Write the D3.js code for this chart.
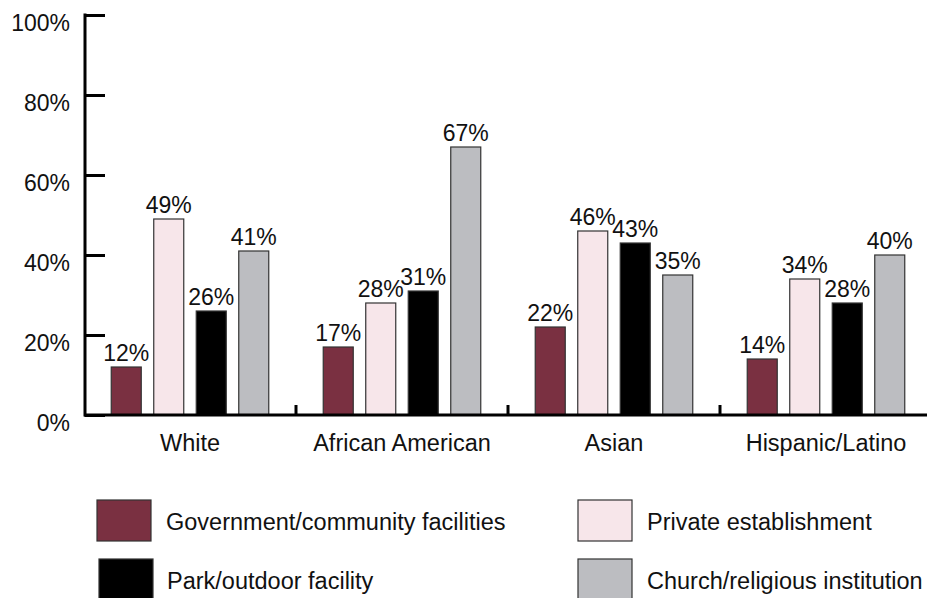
<!DOCTYPE html>
<html>
<head>
<meta charset="utf-8">
<script src="https://cdn.jsdelivr.net/npm/d3@7/dist/d3.min.js"></script>
<style>
  html, body { margin: 0; padding: 0; background: #fff; }
  svg { display: block; font-family: "Liberation Sans", Arial, Helvetica, sans-serif; }
</style>
</head>
<body>
<svg id="chart" width="927" height="598"></svg>
<script>
// Groups along the x axis
const categories = ["White", "African American", "Asian", "Hispanic/Latino"];

// Series names, in drawing order within each group
const seriesNames = [
  "Government/community facilities",
  "Private establishment",
  "Park/outdoor facility",
  "Church/religious institution"
];

// Percent values per series, one per category
const govValues = [12, 17, 22, 14];
const privateValues = [49, 28, 46, 34];
const parkValues = [26, 31, 43, 28];
const churchValues = [41, 67, 35, 40];

// Y axis ticks
const yTicks = [0, 20, 40, 60, 80, 100];

const seriesValues = [govValues, privateValues, parkValues, churchValues];
const colors = ["#7a3041", "#f7e6ea", "#000000", "#bcbdc1"];

const svg = d3.select("#chart");
const fontSize = 23;

const x0 = d3.scaleBand().domain(categories).range([84, 932]).padding(0);
const x1 = d3.scaleBand().domain(seriesNames).range([0, x0.bandwidth()])
  .paddingInner(0.294).paddingOuter(0.641);
const y = d3.scaleLinear().domain([0, 100]).range([415, 15]);

// Y axis: ticks pointing inward, labels to the left
const yAxis = svg.append("g")
  .attr("transform", "translate(85,0)")
  .call(d3.axisLeft(y).tickValues(yTicks).tickFormat(d => d + "%")
    .tickSizeInner(-20).tickSizeOuter(0).tickPadding(15));
yAxis.select(".domain").remove();
yAxis.selectAll(".tick line").attr("stroke", "#000").attr("stroke-width", 3);
yAxis.selectAll(".tick text")
  .attr("font-size", fontSize).attr("fill", "#111")
  .attr("font-family", "Liberation Sans, Arial, sans-serif")
  .attr("dy", "0.68em");

// Bars, one group per category
const rows = categories.map((c, ci) =>
  seriesNames.map((s, si) => ({ s, si, v: seriesValues[si][ci] })));

const groups = svg.append("g").selectAll("g")
  .data(categories)
  .join("g")
  .attr("transform", d => `translate(${x0(d)},0)`);

groups.selectAll("rect")
  .data((c, ci) => rows[ci])
  .join("rect")
  .attr("x", d => x1(d.s))
  .attr("y", d => y(d.v))
  .attr("width", x1.bandwidth())
  .attr("height", d => y(0) - y(d.v))
  .attr("fill", d => colors[d.si])
  .attr("stroke", "#333")
  .attr("stroke-width", 1.2);

groups.selectAll("text.val")
  .data((c, ci) => rows[ci])
  .join("text")
  .attr("class", "val")
  .attr("x", d => x1(d.s) + x1.bandwidth() / 2)
  .attr("y", d => y(d.v) - 6)
  .attr("text-anchor", "middle")
  .attr("font-size", fontSize)
  .attr("fill", "#111")
  .text(d => d.v + "%");

// Y axis line
svg.append("line")
  .attr("x1", 85).attr("x2", 85)
  .attr("y1", y(100) - 1.5).attr("y2", y(0) + 1.5)
  .attr("stroke", "#000").attr("stroke-width", 3);

// X axis: category labels centered on each group
const xAxis = svg.append("g")
  .attr("transform", `translate(0,${y(0)})`)
  .call(d3.axisBottom(x0).tickSize(0).tickPadding(19));
xAxis.select(".domain").remove();
xAxis.selectAll(".tick text")
  .attr("font-size", 23.5).attr("fill", "#111")
  .attr("font-family", "Liberation Sans, Arial, sans-serif");

svg.append("line")
  .attr("x1", 84).attr("x2", 927)
  .attr("y1", y(0)).attr("y2", y(0))
  .attr("stroke", "#000").attr("stroke-width", 3);

// Group separator ticks
svg.append("g").selectAll("line")
  .data(categories.slice(1))
  .join("line")
  .attr("x1", d => x0(d)).attr("x2", d => x0(d))
  .attr("y1", y(0)).attr("y2", y(0) - 10)
  .attr("stroke", "#000").attr("stroke-width", 3);

// Legend: two columns, two rows
const legendPos = [[97, 500], [578, 500], [99, 559], [578, 559]];
const legendOrder = [0, 1, 2, 3];
const legend = svg.append("g").selectAll("g")
  .data(legendOrder)
  .join("g")
  .attr("transform", (d, i) => `translate(${legendPos[i][0]},${legendPos[i][1]})`);

legend.append("rect")
  .attr("width", 54).attr("height", 41)
  .attr("fill", d => colors[d])
  .attr("stroke", "#333").attr("stroke-width", 1.2);

legend.append("text")
  .attr("x", (d, i) => (i === 2 ? 68 : 69))
  .attr("y", 30)
  .attr("font-size", 23.5)
  .attr("fill", "#111")
  .text(d => seriesNames[d]);
</script>
</body>
</html>
